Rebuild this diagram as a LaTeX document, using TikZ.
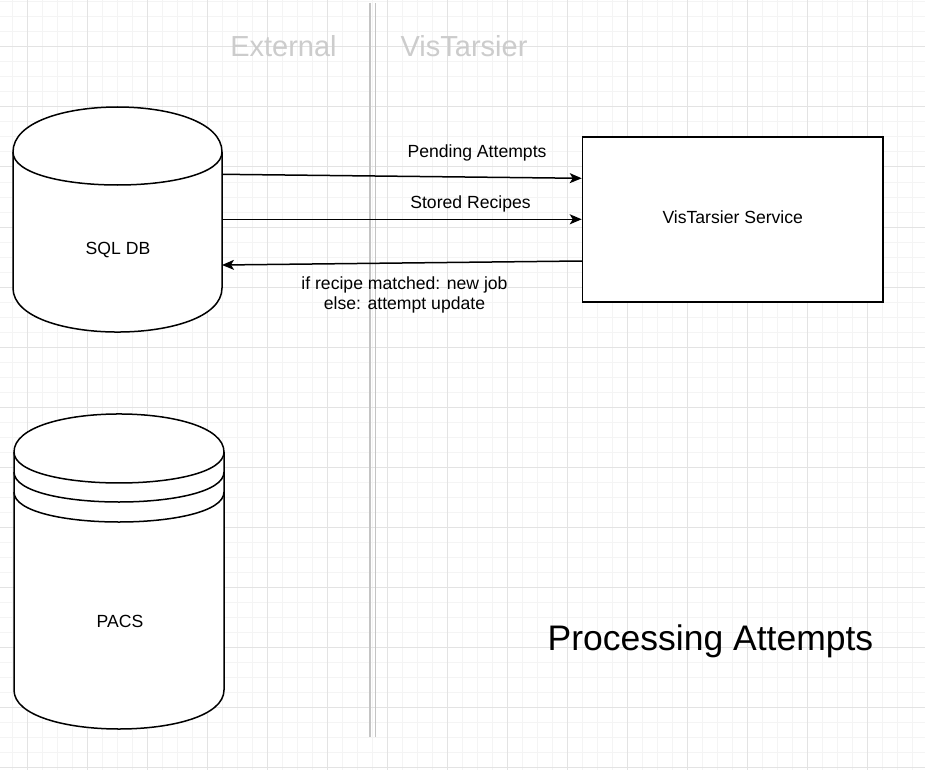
\documentclass[tikz,border=0pt]{standalone}
\usepackage{fontspec}
\setmainfont{Liberation Sans}
\usetikzlibrary{arrows.meta,calc}
\definecolor{gridminor}{HTML}{F4F4F4}
\definecolor{gridmajor}{HTML}{E3E3E3}
\definecolor{sepline}{HTML}{C4C4C4}
\definecolor{zonetext}{HTML}{CCCCCC}
\begin{document}
\begin{tikzpicture}[x=1pt,y=-1pt,
  shapeline/.style={draw=black,line width=1.5pt,fill=white},
  arcline/.style={draw=black,line width=1.5pt},
  flow/.style={draw=black,line width=1.5pt,-{Stealth[length=12pt,width=10pt,inset=3pt]}},
  lbl/.style={font=\fontsize{17.6}{20}\selectfont,inner sep=0pt,align=center},
  zone/.style={font=\fontsize{29}{34}\selectfont,text=zonetext,inner sep=0pt},
  title/.style={font=\fontsize{35.5}{42}\selectfont,inner sep=0pt},
  anchorbox/.style={inner sep=0pt,outer sep=0pt}]
\useasboundingbox (0,0) rectangle (925,770);
\fill[white] (0,0) rectangle (925,770);
% grid
\foreach \x in {12,27,...,922} \draw[gridminor,line width=1pt] (\x,0) -- (\x,770);
\foreach \y in {2,17,...,767} \draw[gridminor,line width=1pt] (0,\y) -- (925,\y);
\foreach \x in {27,87,...,907} \draw[gridmajor,line width=1pt] (\x,0) -- (\x,770);
\foreach \y in {47,107,...,767} \draw[gridmajor,line width=1pt] (0,\y) -- (925,\y);
% separator
\draw[sepline,line width=1.5pt] (370,3) -- (370,737);
\draw[sepline,line width=1.5pt] (375.7,3) -- (375.7,737);
\node[zone] (ext) at (283.5,46) {External};
\node[zone] (vis) at (464,46) {VisTarsier};
% SQL DB cylinder
\path[shapeline] (13,152) .. controls (13,92) and (222,92) .. (222,152) -- (222,288) .. controls (222,346.7) and (13,346.7) .. (13,288) -- cycle;
\path[arcline] (13,152) .. controls (13,196) and (222,196) .. (222,152);
\node[anchorbox,minimum width=209pt,minimum height=225pt] (sql) at (117.5,219.5) {};
\node[lbl] (sqltext) at (118,250) {SQL DB};
% PACS cylinder
\path[shapeline] (14,452) .. controls (14,401.3) and (224,401.3) .. (224,452) -- (224,690) .. controls (224,742) and (14,742) .. (14,690) -- cycle;
\path[arcline] (14,452) .. controls (14,493.3) and (224,493.3) .. (224,452);
\path[arcline] (14,472) .. controls (14,512) and (224,512) .. (224,472);
\path[arcline] (14,492) .. controls (14,532) and (224,532) .. (224,492);
\node[anchorbox,minimum width=210pt,minimum height=315pt] (pacs) at (119,571.5) {};
\node[lbl] (pacstext) at (120,621) {PACS};
% service
\node[draw=black,line width=1.5pt,fill=white,minimum width=300.5pt,minimum height=165pt,inner sep=0pt,text depth=4pt,font=\fontsize{17.6}{20}\selectfont] (svc) at (732.75,219.5) {VisTarsier Service};
% connectors
\draw[flow] ([yshift=45.2pt]sql.east) -- ([yshift=41.2pt]svc.west);
\draw[flow] ([yshift=0.2pt]sql.east) -- ([yshift=0.2pt]svc.west);
\draw[flow] ([yshift=-41.5pt]svc.west) -- ([yshift=-45.5pt]sql.east);
% labels
\node[lbl] (l1) at (477,153) {Pending Attempts};
\node[lbl] (l2) at (470.5,204) {Stored Recipes};
\node[lbl] (l3) at (404.5,295) {if recipe matched: new job\\else: attempt update};
\node[title] (ttl) at (710.5,641) {Processing Attempts};
\end{tikzpicture}
\end{document}
